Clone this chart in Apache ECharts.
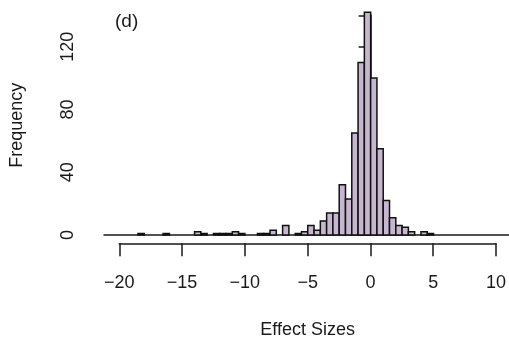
<!DOCTYPE html>
<html>
<head>
<meta charset="utf-8">
<script src="https://cdn.jsdelivr.net/npm/echarts@6/dist/echarts.min.js"></script>
<style>
  html, body { margin: 0; padding: 0; background: #fff; }
  #chart { width: 509px; height: 346px; }
</style>
</head>
<body>
<div id="chart"></div>
<script>
// histogram bins (width 0.5)
const binStarts = [-18.5, -16.5, -14, -13.5, -12.5, -12, -11.5, -11, -10.5, -9, -8.5, -8, -7,
  -6, -5.5, -5, -4.5, -4, -3.5, -3, -2.5, -2, -1.5, -1, -0.5,
  0, 0.5, 1, 1.5, 2, 2.5, 3, 4, 4.5];
const counts = [1, 1, 2, 1, 1, 1, 1, 2, 1, 1, 1, 3, 6,
  1, 2, 6, 3, 9, 14, 14, 32, 23, 65, 110, 142,
  100, 55, 22, 11, 6, 5, 2, 2, 1];
const binWidth = 0.5;
const xTicks = [-20, -15, -10, -5, 0, 5, 10];
const yLabelled = [0, 40, 80, 120];

const font = "'Liberation Sans', Arial, Helvetica, sans-serif";
const ink = '#1a1a1a';

const histData = binStarts.map((s, i) => [s, s + binWidth, counts[i]]);

const chart = echarts.init(document.getElementById('chart'));

const option = {
  backgroundColor: '#fff',
  animation: false,
  title: {
    text: '(d)',
    left: 110,
    top: 7,
    textStyle: { fontFamily: font, fontSize: 19, fontWeight: 'normal', color: ink }
  },
  grid: [
    { left: 104, right: 0, top: 15.3, bottom: 111 },
    { left: 119.3, right: 12.3, top: 242.3, bottom: 102.7 }
  ],
  xAxis: [
    {
      gridIndex: 0, type: 'value', min: -21.2, max: 11.0,
      axisLine: { show: true, onZero: false, lineStyle: { color: ink, width: 1.5 } },
      axisTick: { show: false }, axisLabel: { show: false }, splitLine: { show: false }
    },
    {
      gridIndex: 1, type: 'value', min: xTicks[0], max: xTicks[xTicks.length - 1], interval: 5,
      position: 'bottom',
      axisLine: { show: true, onZero: false, lineStyle: { color: ink, width: 1.5 } },
      axisTick: { show: true, length: 13, lineStyle: { color: ink, width: 1.5 } },
      axisLabel: {
        margin: 31, fontFamily: font, fontSize: 18, color: ink,
        formatter: v => (v < 0 ? '\u2212' + Math.abs(v) : String(v))
      },
      splitLine: { show: false },
      name: 'Effect Sizes', nameLocation: 'middle', nameGap: 78,
      nameTextStyle: { fontFamily: font, fontSize: 18, color: ink }
    }
  ],
  yAxis: [
    {
      gridIndex: 0, type: 'value', min: 0, max: 140, interval: 20,
      axisLine: { show: true, lineStyle: { color: ink, width: 1.5 } },
      axisTick: { show: true, length: 12, lineStyle: { color: ink, width: 1.5 } },
      axisLabel: {
        rotate: 90, margin: 27, fontFamily: font, fontSize: 18, color: ink,
        formatter: v => (yLabelled.includes(v) ? String(v) : '')
      },
      splitLine: { show: false },
      name: 'Frequency', nameLocation: 'middle', nameGap: 78, nameRotate: 90,
      nameTextStyle: { fontFamily: font, fontSize: 18, color: ink }
    },
    { gridIndex: 1, type: 'value', show: false }
  ],
  series: [
    {
      type: 'custom',
      xAxisIndex: 0,
      yAxisIndex: 0,
      clip: false,
      data: histData,
      renderItem: (params, api) => {
        const p0 = api.coord([api.value(0), api.value(2)]);
        const p1 = api.coord([api.value(1), 0]);
        return {
          type: 'rect',
          shape: { x: p0[0], y: p0[1], width: p1[0] - p0[0], height: p1[1] - p0[1] },
          style: { fill: '#c6b6d0', stroke: '#111', lineWidth: 1.5 }
        };
      }
    }
  ]
};

chart.setOption(option);
</script>
</body>
</html>
